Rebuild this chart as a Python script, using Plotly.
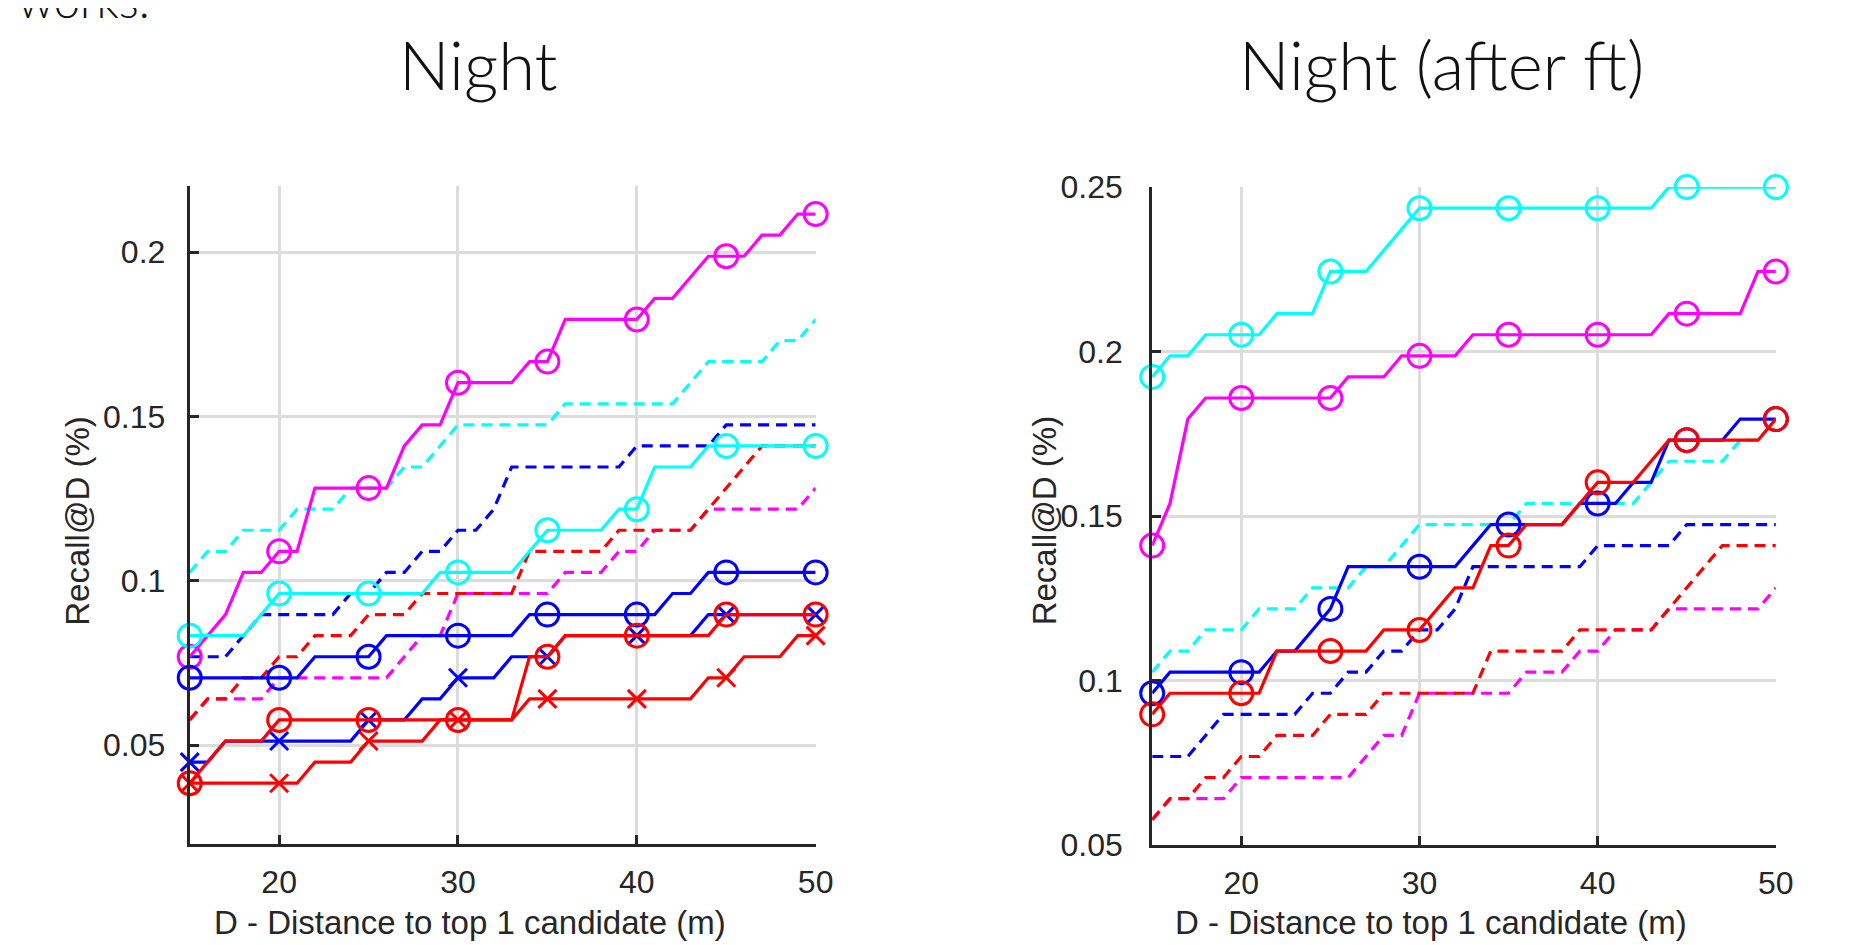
import plotly.graph_objects as go

# ---------------- data (hits out of 156 night queries) ----------------
N_QUERIES = 156
distance_m = [15, 16, 17, 18, 19, 20, 21, 22, 23, 24, 25, 26, 27, 28, 29, 30, 31, 32,
              33, 34, 35, 36, 37, 38, 39, 40, 41, 42, 43, 44, 45, 46, 47, 48, 49, 50]
x_ticks = [20, 30, 40, 50]
y_ticks_left = [0.05, 0.1, 0.15, 0.2]
y_ticks_right = [0.05, 0.1, 0.15, 0.2, 0.25]

# baselines (dashed) - identical in both panels
dashed_cyan = [16, 17, 17, 18, 18, 18, 19, 19, 19, 20, 20, 20, 21, 21, 22, 23, 23, 23,
               23, 23, 23, 24, 24, 24, 24, 24, 24, 24, 25, 26, 26, 26, 26, 27, 27, 28]
dashed_blue = [12, 12, 12, 13, 14, 14, 14, 14, 14, 15, 15, 16, 16, 17, 17, 18, 18, 19,
               21, 21, 21, 21, 21, 21, 21, 22, 22, 22, 22, 22, 23, 23, 23, 23, 23, 23]
dashed_red = [9, 10, 10, 11, 11, 12, 12, 13, 13, 13, 14, 14, 14, 15, 15, 15, 15, 15,
              15, 17, 17, 17, 17, 17, 18, 18, 18, 18, 18, 19, 20, 21, 22, 22, 22, 22]
dashed_magenta = [9, 10, 10, 10, 10, 11, 11, 11, 11, 11, 11, 11, 12, 13, 13, 15, 15, 15,
                  15, 15, 15, 16, 16, 16, 17, 17, 18, 18, 18, 19, 19, 19, 19, 19, 19, 20]

# left panel "Night" - solid lines
night_magenta_o = [12, 13, 14, 16, 16, 17, 17, 20, 20, 20, 20, 20, 22, 23, 23, 25, 25, 25,
                   25, 26, 26, 28, 28, 28, 28, 28, 29, 29, 30, 31, 31, 31, 32, 32, 33, 33]
night_cyan_o = [13, 13, 13, 13, 14, 15, 15, 15, 15, 15, 15, 15, 15, 15, 16, 16, 16, 16,
                16, 17, 18, 18, 18, 18, 19, 19, 21, 21, 21, 22, 22, 22, 22, 22, 22, 22]
night_blue_o = [11, 11, 11, 11, 11, 11, 11, 12, 12, 12, 12, 13, 13, 13, 13, 13, 13, 13,
                13, 14, 14, 14, 14, 14, 14, 14, 14, 15, 15, 16, 16, 16, 16, 16, 16, 16]
night_blue_x = [7, 7, 8, 8, 8, 8, 8, 8, 8, 8, 9, 9, 9, 10, 10, 11, 11, 11,
                12, 12, 12, 13, 13, 13, 13, 13, 13, 13, 13, 14, 14, 14, 14, 14, 14, 14]
night_red_o = [6, 7, 8, 8, 8, 9, 9, 9, 9, 9, 9, 9, 9, 9, 9, 9, 9, 9,
               9, 12, 12, 13, 13, 13, 13, 13, 13, 13, 13, 13, 14, 14, 14, 14, 14, 14]
night_red_x = [6, 6, 6, 6, 6, 6, 6, 7, 7, 7, 8, 8, 8, 8, 9, 9, 9, 9,
               9, 10, 10, 10, 10, 10, 10, 10, 10, 10, 10, 11, 11, 12, 12, 12, 13, 13]

# right panel "Night (after ft)" - solid lines
ft_cyan_o = [30, 31, 31, 32, 32, 32, 32, 33, 33, 33, 35, 35, 35, 36, 37, 38, 38, 38,
             38, 38, 38, 38, 38, 38, 38, 38, 38, 38, 38, 39, 39, 39, 39, 39, 39, 39]
ft_magenta_o = [22, 24, 28, 29, 29, 29, 29, 29, 29, 29, 29, 30, 30, 30, 31, 31, 31, 31,
                32, 32, 32, 32, 32, 32, 32, 32, 32, 32, 32, 33, 33, 33, 33, 33, 35, 35]
ft_blue_o = [15, 16, 16, 16, 16, 16, 16, 17, 17, 18, 19, 21, 21, 21, 21, 21, 21, 21,
             22, 23, 23, 23, 23, 23, 24, 24, 24, 25, 25, 27, 27, 27, 27, 28, 28, 28]
ft_red_o = [14, 15, 15, 15, 15, 15, 15, 17, 17, 17, 17, 17, 17, 18, 18, 18, 19, 20,
            20, 22, 22, 23, 23, 23, 24, 25, 25, 25, 26, 27, 27, 27, 27, 27, 27, 28]

# ---------------- styling ----------------
MAGENTA, CYAN, BLUE, RED = "#FF00FF", "#00FFFF", "#0000FF", "#FF0000"
AXIS_COLOR = "#262626"
GRID_COLOR = "#DCDCDC"
SANS = "Liberation Sans, Arial, sans-serif"
TICK_FONT = dict(family=SANS, size=32, color=AXIS_COLOR)
LABEL_FONT = dict(family=SANS, size=33, color=AXIS_COLOR)
TITLE_FONT = dict(family="Lato", size=67, weight=300, color="#111111")
LINE_W = 3.2


def recall(hits):
    return [h / N_QUERIES for h in hits]


def marker_sizes(size):
    return [size if d % 5 == 0 else 0 for d in distance_m]


fig = go.Figure()


def add_dashed(color, hits, xa, ya):
    fig.add_trace(go.Scatter(
        x=distance_m, y=recall(hits), mode="lines", xaxis=xa, yaxis=ya,
        line=dict(color=color, width=LINE_W, dash="11px,7px"),
        showlegend=False, hoverinfo="skip", cliponaxis=False))


def add_solid(color, hits, symbol, xa, ya):
    fig.add_trace(go.Scatter(
        x=distance_m, y=recall(hits), mode="lines+markers", xaxis=xa, yaxis=ya,
        line=dict(color=color, width=LINE_W),
        marker=dict(symbol=symbol, size=marker_sizes(23 if symbol == "circle-open" else 18),
                    color=color, opacity=1, line=dict(color=color, width=3)),
        showlegend=False, hoverinfo="skip", cliponaxis=False))


for xa, ya in (("x", "y"), ("x2", "y2")):
    add_dashed(CYAN, dashed_cyan, xa, ya)
    add_dashed(BLUE, dashed_blue, xa, ya)
    add_dashed(MAGENTA, dashed_magenta, xa, ya)
    add_dashed(RED, dashed_red, xa, ya)

add_solid(MAGENTA, night_magenta_o, "circle-open", "x", "y")
add_solid(CYAN, night_cyan_o, "circle-open", "x", "y")
add_solid(BLUE, night_blue_o, "circle-open", "x", "y")
add_solid(BLUE, night_blue_x, "x-thin-open", "x", "y")
add_solid(RED, night_red_o, "circle-open", "x", "y")
add_solid(RED, night_red_x, "x-thin-open", "x", "y")

add_solid(CYAN, ft_cyan_o, "circle-open", "x2", "y2")
add_solid(MAGENTA, ft_magenta_o, "circle-open", "x2", "y2")
add_solid(BLUE, ft_blue_o, "circle-open", "x2", "y2")
add_solid(RED, ft_red_o, "circle-open", "x2", "y2")

W, H = 1872, 945


def xaxis_cfg(x0, x1, anchor):
    return dict(domain=[x0 / W, x1 / W], range=[15, 50], tickvals=x_ticks, anchor=anchor,
                showline=True, linecolor=AXIS_COLOR, linewidth=3, mirror=False,
                ticks="inside", ticklen=9, tickwidth=3, tickcolor=AXIS_COLOR,
                showgrid=True, gridcolor=GRID_COLOR, gridwidth=3, zeroline=False,
                tickfont=TICK_FONT, ticklabelstandoff=8)


def yaxis_cfg(y0, y1, rng, ticks, anchor, standoff):
    return dict(domain=[1 - y1 / H, 1 - y0 / H], range=rng, tickvals=ticks, anchor=anchor,
                ticktext=[f"{t:g}" for t in ticks],
                showline=True, linecolor=AXIS_COLOR, linewidth=3, mirror=False,
                ticks="inside", ticklen=9, tickwidth=3, tickcolor=AXIS_COLOR,
                showgrid=True, gridcolor=GRID_COLOR, gridwidth=3, zeroline=False,
                tickfont=TICK_FONT, ticklabelstandoff=standoff)


def text_ann(text, x, y, font, angle=0, xanchor="center", yanchor="middle"):
    return dict(text=text, x=x / W, y=1 - y / H, xref="paper", yref="paper",
                xanchor=xanchor, yanchor=yanchor, showarrow=False, font=font,
                textangle=angle)


fig.update_layout(
    width=W, height=H, margin=dict(l=0, r=0, t=0, b=0),
    paper_bgcolor="white", plot_bgcolor="white",
    xaxis=xaxis_cfg(183.5, 815.5, "y"),
    yaxis=yaxis_cfg(166.6, 850.3, [0.02, 0.22], y_ticks_left, "x", 15),
    xaxis2=xaxis_cfg(1155.3, 1785, "y2"),
    yaxis2=yaxis_cfg(167.5, 851.5, [0.05, 0.25], y_ticks_right, "x2", 20),
    annotations=[
        text_ann("Night", 475, 40, TITLE_FONT),
        text_ann("Night (after ft)", 1447, 40, TITLE_FONT),
        text_ann("works.", 8, 4, dict(TITLE_FONT, size=47), xanchor="left", yanchor="bottom"),
        text_ann("D - Distance to top 1 candidate (m)", 466, 932, LABEL_FONT),
        text_ann("D - Distance to top 1 candidate (m)", 1437, 932, LABEL_FONT),
        text_ann("Recall@D (%)", 70, 514, LABEL_FONT, angle=-90),
        text_ann("Recall@D (%)", 1046, 514, LABEL_FONT, angle=-90),
    ],
)

fig.write_html("out.html")
